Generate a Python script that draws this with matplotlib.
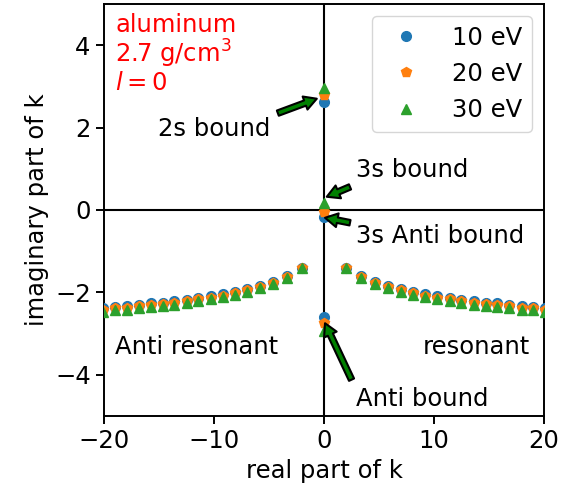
import matplotlib
matplotlib.use("Agg")
import matplotlib.pyplot as plt

plt.rcParams["font.family"] = ["DejaVu Sans"]
plt.rcParams["font.size"] = 17.5
plt.rcParams["axes.linewidth"] = 1.4
plt.rcParams["xtick.major.width"] = 1.4
plt.rcParams["ytick.major.width"] = 1.4
plt.rcParams["xtick.major.size"] = 6.1
plt.rcParams["ytick.major.size"] = 6.1

# |Re k| of the resonant / anti-resonant poles (mirror pairs k and -k*)
re_k = [2.0, 3.38, 4.6, 5.83, 6.98, 8.1, 9.22, 10.3, 11.45, 12.48,
        13.6, 14.68, 15.75, 16.85, 17.95, 19.02, 20.1]

# Im k of the resonance poles for each temperature
im_res_10 = [-1.40, -1.60, -1.755, -1.84, -1.92, -1.99, -2.05, -2.095, -2.135,
             -2.175, -2.21, -2.25, -2.27, -2.30, -2.33, -2.35, -2.38]
im_res_20 = [-1.41, -1.62, -1.78, -1.87, -1.95, -2.02, -2.08, -2.13, -2.17,
             -2.21, -2.25, -2.29, -2.31, -2.34, -2.37, -2.39, -2.42]
im_res_30 = [-1.42, -1.64, -1.805, -1.90, -1.985, -2.055, -2.12, -2.17, -2.21,
             -2.255, -2.295, -2.335, -2.36, -2.39, -2.42, -2.44, -2.47]

# Purely imaginary poles: 2s bound, 3s (anti-)bound, anti-bound
im_axis_10 = [2.63, -0.18, -2.60]
im_axis_20 = [2.78, -0.04, -2.74]
im_axis_30 = [2.96, 0.18, -2.94]

labels = ["10 eV", "20 eV", "30 eV"]
colors = ["#1f77b4", "#ff7f0e", "#2ca02c"]
markers = ["o", "p", "^"]

fig = plt.figure(figsize=(5.7, 4.94), dpi=100)
ax = fig.add_axes([0.1825, 0.158, 0.772, 0.834])

ax.axhline(0, color="black", lw=1.5, zorder=1)
ax.axvline(0, color="black", lw=1.5, zorder=1)

series = [(im_res_10, im_axis_10), (im_res_20, im_axis_20), (im_res_30, im_axis_30)]
for (res, axis_pts), lab, c, m in zip(series, labels, colors, markers):
    xs = [-x for x in re_k] + re_k + [0.0] * len(axis_pts)
    ys = res + res + axis_pts
    ax.plot(xs, ys, linestyle="none", marker=m, color=c, ms=7, label=lab, zorder=3)

ax.set_xlim(-20, 20)
ax.set_ylim(-5, 5)
ax.set_xticks([-20, -10, 0, 10, 20])
ax.set_yticks([-4, -2, 0, 2, 4])
ax.set_xlabel("real part of k")
ax.set_ylabel("imaginary part of k")

ax.text(-19.0, 4.78, "aluminum\n2.7 g/cm$^3$\n$l=0$", color="red",
        va="top", ha="left", linespacing=1.05)

arrow_kw = dict(facecolor="green", edgecolor="black", width=4, headwidth=10,
                headlength=9, shrink=0, linewidth=1.5)
ax.annotate("", xy=(-0.66, 2.70), xytext=(-4.2, 2.35), arrowprops=arrow_kw, zorder=4)
ax.annotate("", xy=(0.25, 0.32), xytext=(2.36, 0.56), arrowprops=arrow_kw, zorder=4)
ax.annotate("", xy=(0.09, -0.19), xytext=(2.36, -0.31), arrowprops=arrow_kw, zorder=4)
ax.annotate("", xy=(0.09, -2.75), xytext=(2.5, -4.12), arrowprops=arrow_kw, zorder=4)

ax.text(-15.1, 1.80, "2s bound", va="baseline")
ax.text(2.9, 0.81, "3s bound", va="baseline")
ax.text(2.9, -0.80, "3s Anti bound", va="baseline")
ax.text(2.9, -4.77, "Anti bound", va="baseline")
ax.text(-19.0, -3.50, "Anti resonant", va="baseline")
ax.text(9.0, -3.50, "resonant", va="baseline")

ax.legend(loc="upper right", numpoints=1, handletextpad=0.9)

fig.savefig("out.png", dpi=100)
